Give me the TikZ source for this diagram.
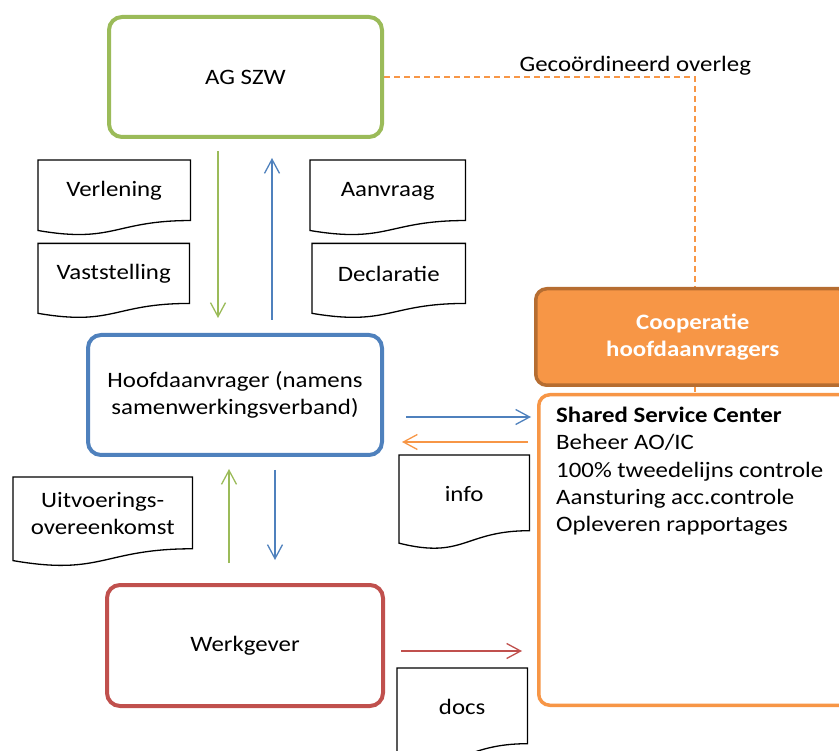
\documentclass[tikz,border=0pt]{standalone}
\usepackage{fontspec}
\setmainfont{Carlito}[FakeStretch=1.13]
\usetikzlibrary{positioning, arrows.meta, calc, backgrounds}

\definecolor{agGreen}{HTML}{9BBB59}
\definecolor{haBlue}{HTML}{4F81BD}
\definecolor{wgRed}{HTML}{C0504D}
\definecolor{coOrange}{HTML}{F79646}
\definecolor{coDark}{HTML}{B66D31}

% outline of a document shape round a node
\newcommand{\docframe}[1]{%
  \draw[docline] (#1.north west) -- (#1.north east)
    -- ($(#1.north east)!0.978!(#1.south east)$)
    .. controls ($(#1.north)!0.978!(#1.south)$) and ($(#1.north)!1.3506!(#1.south)$)
    .. ($(#1.north west)!1.139!(#1.south west)$) -- cycle;}

\begin{document}
\begin{tikzpicture}[x=1pt, y=-1pt, font=\fontsize{22}{27.2}\selectfont,
    box/.style={draw, rounded corners=13pt, line width=4pt, align=center, inner sep=0pt},
    doc/.style={anchor=north west, inner sep=0pt, align=center},
    docline/.style={draw=black, line width=1.3pt},
    flow/.style={line width=1.3pt, -{Straight Barb[length=14pt, width=15pt]}},
    bold/.style={font=\fontsize{22}{27.2}\selectfont\bfseries}]

    \useasboundingbox (0,0) rectangle (839,751);
    \clip (0,0) rectangle (839,751);

	%Nodes
    \node (agszw) [box, draw=agGreen, minimum width=273pt, minimum height=120pt] at (245.5,77) {AG SZW};
    \node (hoofd) [box, draw=haBlue, minimum width=294pt, minimum height=120pt] at (235,395)
        {Hoofdaanvrager (namens\\samenwerkingsverband)};
    \node (werk) [box, draw=wgRed, minimum width=276pt, minimum height=121pt] at (245,645.5) {Werkgever};
    \node (coop) [box, bold, draw=coDark, fill=coOrange, text=white, line width=3.5pt, rounded corners=11pt,
        minimum width=314pt, minimum height=96.5pt] at (692.75,337) {Cooperatie\\hoofdaanvragers};
    \node (ssc) [box, draw=coOrange, fill=white, line width=3.5pt, rounded corners=11pt,
        minimum width=312.5pt, minimum height=310.5pt] at (695,550) {};
    \node (ssctext) [anchor=north west, align=left, inner sep=0pt] at ([xshift=19pt, yshift=-14pt]ssc.north west)
        {\textbf{Shared Service Center}\\Beheer AO/IC\\100\% tweedelijns controle\\Aansturing acc.controle\\Opleveren rapportages};

    % documents
    \node (verlening) [doc, minimum width=152pt, minimum height=61.5pt] at (38,160) {Verlening};
    \node (vaststelling) [doc, minimum width=151pt, minimum height=61pt, below=21.5pt of verlening.south west, anchor=north west] {Vaststelling};
    \node (aanvraag) [doc, minimum width=155pt, minimum height=61.5pt] at (310,160) {Aanvraag};
    \node (declaratie) [doc, minimum width=153pt, minimum height=61pt, below=21.5pt of aanvraag.south east, anchor=north east] {Declaratie};
    \node (uitvoering) [doc, minimum width=179pt, minimum height=73pt] at (13,477) {Uitvoerings-\\overeenkomst};
    \node (info) [doc, minimum width=130pt, minimum height=77pt] at (399,455) {info};
    \node (docs) [doc, minimum width=130pt, minimum height=77pt] at (397,668) {docs};
    \foreach \d in {verlening, vaststelling, aanvraag, declaratie, uitvoering, info, docs}
        {\docframe{\d}}

    % Edges
    \begin{scope}[on background layer]
    \draw[coOrange, line width=1.5pt, dash pattern=on 6pt off 4pt] (agszw.east) -|
        node[pos=0.404, above, inner sep=1pt, text=black] (overleg) {Gecoördineerd overleg} (ssc.north);
    \end{scope}
    \draw[flow, agGreen, shorten <=12pt, shorten >=15pt] ([xshift=-27.5pt]agszw.south) -- ([xshift=-27.5pt]agszw.south |- hoofd.north);
    \draw[flow, haBlue, shorten <=13pt, shorten >=19pt] ([xshift=26.5pt]agszw.south |- hoofd.north) -- ([xshift=26.5pt]agszw.south);
    \draw[flow, agGreen, shorten <=20pt, shorten >=12pt] ([xshift=-16pt]werk.north) -- ([xshift=-16pt]werk.north |- hoofd.south);
    \draw[flow, haBlue, shorten <=13pt, shorten >=23pt] ([xshift=30pt]werk.north |- hoofd.south) -- ([xshift=30pt]werk.north);
    \draw[flow, haBlue, shorten <=22pt, shorten >=6pt] ([yshift=-22pt]hoofd.east) -- ([yshift=-22pt]hoofd.east -| ssc.west);
    \draw[flow, coOrange, shorten <=9pt, shorten >=18pt] ([yshift=-47pt]hoofd.east -| ssc.west) -- ([yshift=-47pt]hoofd.east);
    \draw[flow, wgRed, shorten <=16pt, shorten >=15pt] ([yshift=-5.5pt]werk.east) -- ([yshift=-5.5pt]werk.east -| ssc.west);

\end{tikzpicture}
\end{document}
